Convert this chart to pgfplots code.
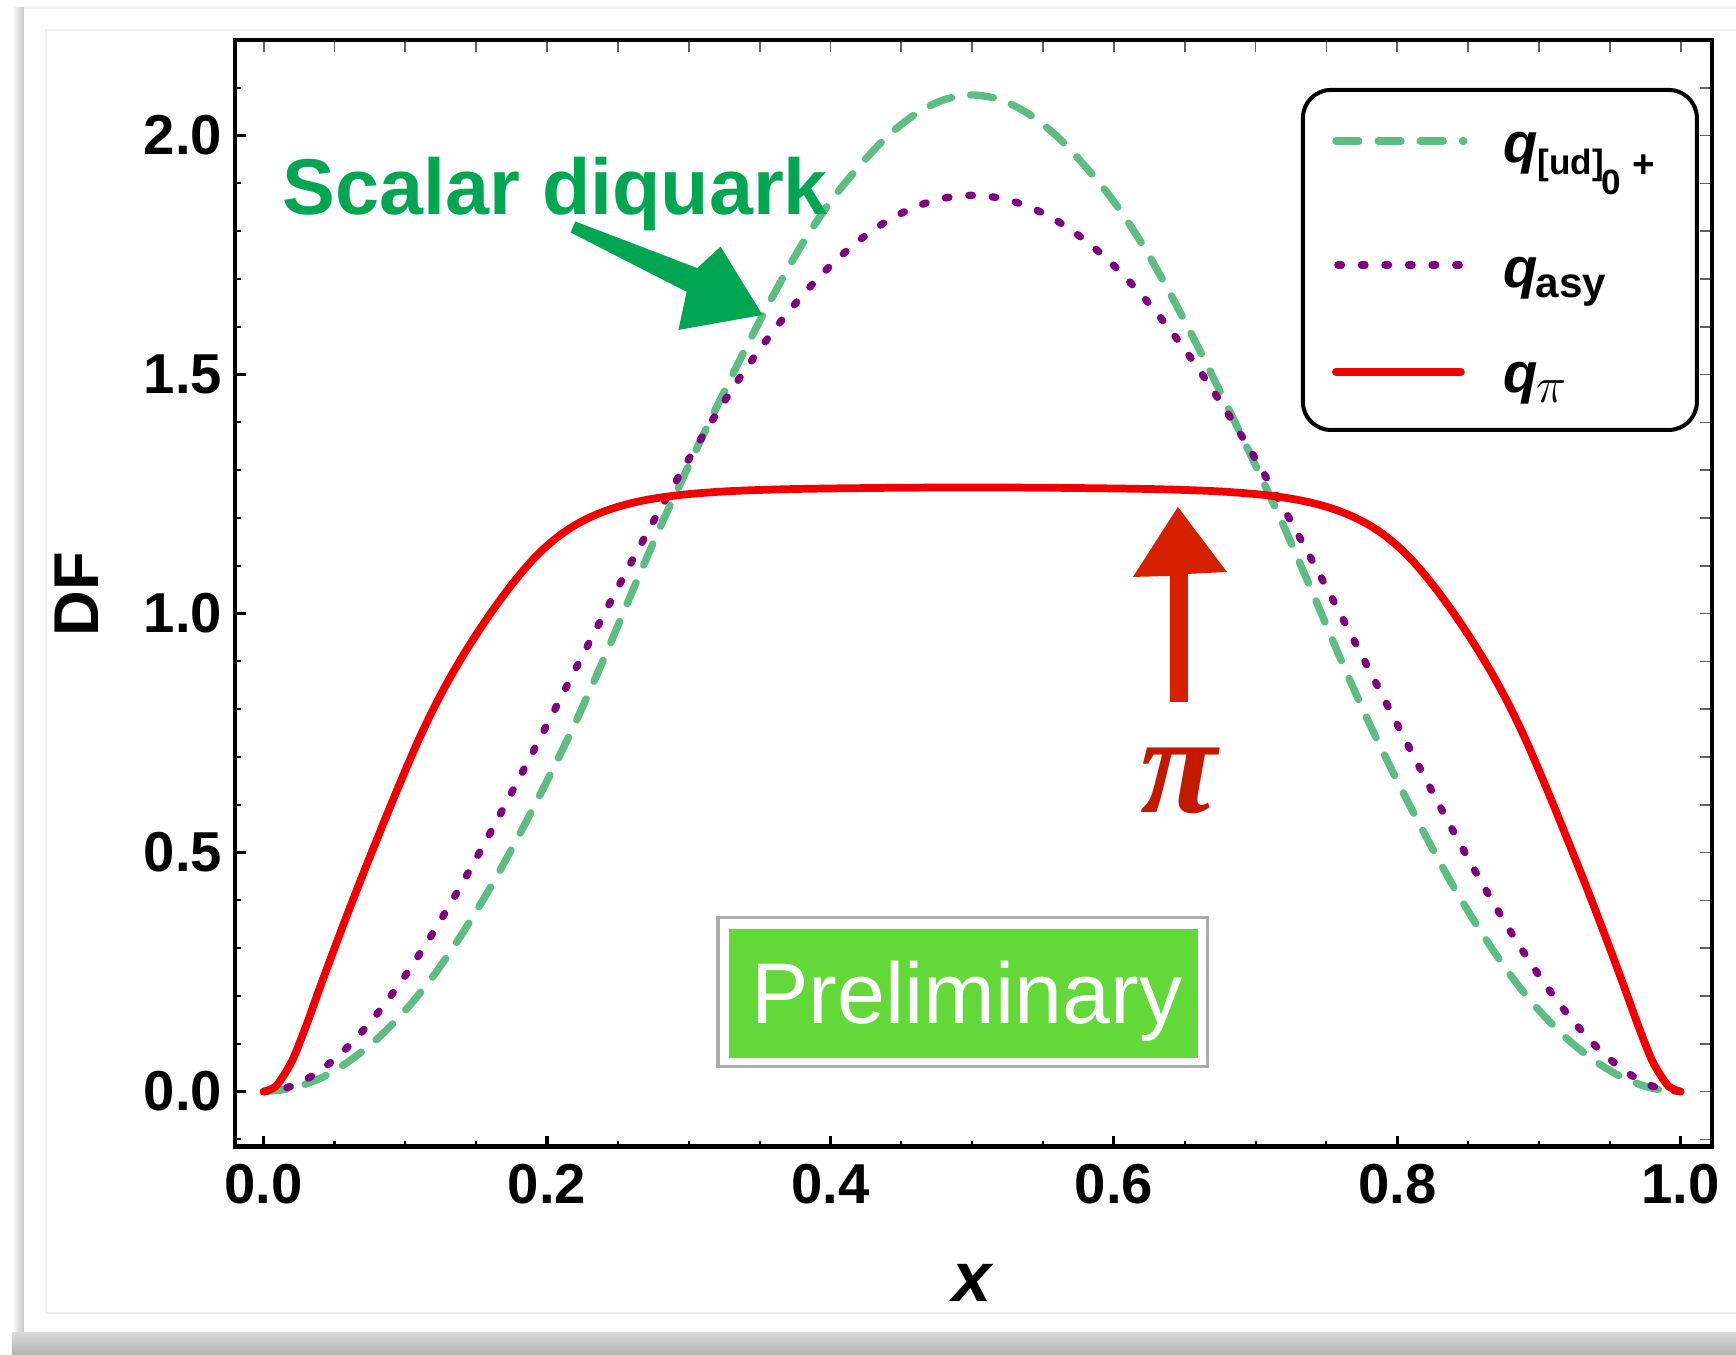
\documentclass[border=0pt]{standalone}
\usepackage{fontspec}
\setmainfont{Liberation Sans}
\newfontfamily\seriffont{Liberation Serif}
\usepackage{pgfplots}
\usepackage{pgfplotstable}
\pgfplotsset{compat=1.18}
\usetikzlibrary{arrows.meta}

\definecolor{cgreen}{RGB}{94,189,130}
\definecolor{cpurple}{RGB}{128,0,128}
\definecolor{cred}{RGB}{240,0,0}
\definecolor{agreen}{RGB}{0,166,81}
\definecolor{ared}{RGB}{214,32,0}
\definecolor{pired}{RGB}{194,26,0}
\definecolor{prelim}{RGB}{98,217,56}

\tikzset{
  greendash/.style={color=cgreen, line width=2.1pt, dash pattern=on 6.5pt off 5.5pt, line cap=round},
  purpledot/.style={color=cpurple, line width=2.1pt, dash pattern=on 1pt off 5.7pt, line cap=round},
  redline/.style={color=cred, line width=2.2pt, line cap=round, line join=round},
}

\pgfplotstableread{
x y
0.00 0.000
0.02 0.007
0.04 0.028
0.06 0.063
0.08 0.110
0.10 0.170
0.12 0.243
0.14 0.330
0.16 0.427
0.18 0.535
0.20 0.650
0.22 0.772
0.24 0.905
0.26 1.045
0.28 1.182
0.30 1.310
0.32 1.434
0.34 1.554
0.36 1.668
0.38 1.773
0.40 1.862
0.42 1.935
0.44 1.998
0.46 2.045
0.48 2.075
0.50 2.085
0.52 2.075
0.54 2.045
0.56 1.998
0.58 1.935
0.60 1.862
0.62 1.773
0.64 1.668
0.66 1.554
0.68 1.434
0.70 1.310
0.72 1.182
0.74 1.045
0.76 0.905
0.78 0.772
0.80 0.650
0.82 0.535
0.84 0.427
0.86 0.330
0.88 0.243
0.90 0.170
0.92 0.110
0.94 0.063
0.96 0.028
0.98 0.007
1.00 0.000
}\greentab

\pgfplotstableread{
x y
0.00 0.0000
0.02 0.0115
0.04 0.0442
0.06 0.0954
0.08 0.1625
0.10 0.2430
0.12 0.3345
0.14 0.4349
0.16 0.5419
0.18 0.6536
0.20 0.7680
0.22 0.8834
0.24 0.9981
0.26 1.1105
0.28 1.2193
0.30 1.3230
0.32 1.4205
0.34 1.5107
0.36 1.5925
0.38 1.6652
0.40 1.7280
0.42 1.7802
0.44 1.8214
0.46 1.8511
0.48 1.8690
0.50 1.8750
0.52 1.8690
0.54 1.8511
0.56 1.8214
0.58 1.7802
0.60 1.7280
0.62 1.6652
0.64 1.5925
0.66 1.5107
0.68 1.4205
0.70 1.3230
0.72 1.2193
0.74 1.1105
0.76 0.9981
0.78 0.8834
0.80 0.7680
0.82 0.6536
0.84 0.5419
0.86 0.4349
0.88 0.3345
0.90 0.2430
0.92 0.1625
0.94 0.0954
0.96 0.0442
0.98 0.0115
1.00 0.0000
}\purpletab

\pgfplotstableread{
x y
0.000 0.000
0.005 0.005
0.010 0.016
0.020 0.064
0.030 0.138
0.040 0.220
0.050 0.300
0.060 0.378
0.070 0.454
0.080 0.528
0.090 0.601
0.100 0.672
0.110 0.740
0.120 0.802
0.130 0.858
0.140 0.909
0.150 0.956
0.160 1.000
0.170 1.041
0.180 1.079
0.190 1.113
0.200 1.142
0.210 1.166
0.220 1.1855
0.230 1.201
0.240 1.2135
0.250 1.2235
0.260 1.2315
0.270 1.2378
0.280 1.2428
0.290 1.2468
0.300 1.2500
0.320 1.2546
0.340 1.2576
0.370 1.2603
0.400 1.2618
0.450 1.2633
0.500 1.2638
0.550 1.2633
0.600 1.2618
0.630 1.2603
0.660 1.2576
0.680 1.2546
0.700 1.2500
0.710 1.2468
0.720 1.2428
0.730 1.2378
0.740 1.2315
0.750 1.2235
0.760 1.2135
0.770 1.201
0.780 1.1855
0.790 1.166
0.800 1.142
0.810 1.113
0.820 1.079
0.830 1.041
0.840 1.000
0.850 0.956
0.860 0.909
0.870 0.858
0.880 0.802
0.890 0.740
0.900 0.672
0.910 0.601
0.920 0.528
0.930 0.454
0.940 0.378
0.950 0.300
0.960 0.220
0.970 0.138
0.980 0.064
0.990 0.016
0.995 0.005
1.000 0.000
}\redtab

\begin{document}
\begin{tikzpicture}
% background card (pixel coordinates, y downwards)
\begin{scope}[x=0.01cm, y=-0.01cm, shift={(0,13.55cm)}]
  \useasboundingbox (0,0) rectangle (1736,1355);
  \fill[white] (0,0) rectangle (1736,1355);
  \shade[left color=white, right color=gray!45] (12,8) rectangle (24,1335);
  \fill[gray!8] (24,6) rectangle (1736,9);
  \shade[top color=gray!30, bottom color=gray!60] (12,1333) rectangle (1736,1355);
  \draw[gray!12, line width=0.6pt] (46,30) -- (1736,30);
  \draw[gray!12, line width=0.6pt] (46,30) -- (46,1313) -- (1736,1313);
\end{scope}

% tick marks on top and right (thin, gray)
\begin{axis}[
  at={(2.345cm,2.09cm)}, anchor=south west,
  scale only axis, width=14.765cm, height=11.06cm,
  xmin=-0.0205, xmax=1.022, ymin=-0.115, ymax=2.2,
  axis line style={draw=none},
  xtick={0,0.05,0.1,0.15,0.2,0.25,0.3,0.35,0.4,0.45,0.5,0.55,0.6,0.65,0.7,0.75,0.8,0.85,0.9,0.95,1},
  ytick={-0.1,0,0.1,0.2,0.3,0.4,0.5,0.6,0.7,0.8,0.9,1,1.1,1.2,1.3,1.4,1.5,1.6,1.7,1.8,1.9,2,2.1},
  xticklabels={}, yticklabels={},
  xtick pos=right, ytick pos=right,
  tick align=inside,
  major tick length=0.12cm,
  every major tick/.style={line width=0.5pt, gray!75!black},
]
\end{axis}

\begin{axis}[
  at={(2.345cm,2.09cm)}, anchor=south west,
  scale only axis, width=14.765cm, height=11.06cm,
  xmin=-0.0205, xmax=1.022, ymin=-0.115, ymax=2.2,
  axis line style={line width=1.2pt, black},
  xtick={0,0.2,0.4,0.6,0.8,1},
  xticklabels={0.0,0.2,0.4,0.6,0.8,1.0},
  ytick={0,0.5,1,1.5,2},
  yticklabels={0.0,0.5,1.0,1.5,2.0},
  minor xtick={0.05,0.1,0.15,0.25,0.3,0.35,0.45,0.5,0.55,0.65,0.7,0.75,0.85,0.9,0.95},
  minor ytick={-0.1,0.1,0.2,0.3,0.4,0.6,0.7,0.8,0.9,1.1,1.2,1.3,1.4,1.6,1.7,1.8,1.9,2.1},
  xtick pos=left, ytick pos=left,
  tick align=inside,
  major tick length=0.11cm, minor tick length=0.06cm,
  every major tick/.style={line width=0.9pt, black},
  every minor tick/.style={line width=0.6pt, black},
  tick label style={font=\fontsize{16}{16}\selectfont\bfseries},
  xticklabel style={yshift=-0.05cm},
  xlabel={\bfseries\itshape x},
  xlabel style={at={(axis description cs:0.4995,-0.123)}, anchor=center, font=\fontsize{20}{20}\selectfont},
  ylabel={\bfseries DF},
  ylabel style={at={(axis description cs:-0.1067,0.499)}, anchor=center, font=\fontsize{18}{18}\selectfont},
]
\addplot[greendash, smooth] table[x=x, y=y] {\greentab};
\addplot[purpledot, smooth] table[x=x, y=y] {\purpletab};
\addplot[redline, smooth] table[x=x, y=y] {\redtab};
\end{axis}

% annotations, legend (pixel coordinates, y downwards)
\begin{scope}[x=0.01cm, y=-0.01cm, shift={(0,13.55cm)}]
  % legend
  \draw[black, line width=1.15pt, fill=white, rounded corners=0.28cm] (1303,90) rectangle (1697,430);
  \draw[greendash] (1336,141) -- (1464,141);
  \draw[purpledot] (1338,265) -- (1462,265);
  \draw[redline] (1336,372) -- (1461,372);
  \node[anchor=base west, inner sep=0, font=\fontsize{16}{16}\selectfont\bfseries\itshape] at (1503,163) {q};
  \node[anchor=base west, inner sep=0, font=\fontsize{10}{10}\selectfont\bfseries] at (1537,175) {[ud]};
  \node[anchor=base west, inner sep=0, font=\fontsize{10}{10}\selectfont\bfseries] at (1601,195) {0};
  \node[anchor=base west, inner sep=0, font=\fontsize{11}{11}\selectfont\bfseries] at (1632,178) {+};
  \node[anchor=base west, inner sep=0, font=\fontsize{16}{16}\selectfont\bfseries\itshape] at (1503,288) {q};
  \node[anchor=base west, inner sep=0, font=\fontsize{12}{12}\selectfont\bfseries] at (1535,298) {asy};
  \node[anchor=base west, inner sep=0, font=\fontsize{16}{16}\selectfont\bfseries\itshape] at (1503,393) {q};
  \node[anchor=base west, inner sep=0, font=\fontsize{15}{15}\selectfont] at (1536,403) {$\pi$};

  % Scalar diquark label and arrow
  \node[agreen, anchor=base west, inner sep=0, font=\fontsize{22.5}{22.5}\selectfont\bfseries] at (282,215) {Scalar diquark};
  \fill[agreen] (575.4,221.5) -- (697.3,268.1) -- (720.6,246.7) -- (762.6,315) -- (678.5,330) -- (686.7,291.9) -- (570.6,232.5) -- cycle;

  % pi arrow and label
  \fill[ared] (1170,702) -- (1170,576) -- (1133,577) -- (1178,507) -- (1227,572) -- (1188,574) -- (1188,702) -- cycle;
  \node[pired, inner sep=0, font=\seriffont\fontsize{40}{40}\selectfont\bfseries\itshape] at (1179,781) {π};

  % Preliminary box
  \draw[gray!65, line width=0.9pt, fill=white] (718,918) rectangle (1208,1067);
  \fill[prelim] (729,929) rectangle (1198,1058);
  \node[white, anchor=base, inner sep=0, font=\fontsize{24.5}{24.5}\selectfont] at (967,1024) {Preliminary};
\end{scope}
\end{tikzpicture}
\end{document}
